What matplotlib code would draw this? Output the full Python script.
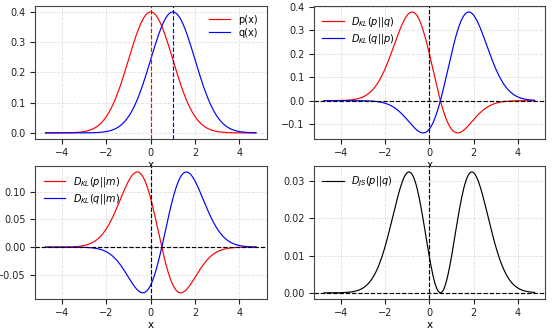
import matplotlib
matplotlib.use("Agg")
import matplotlib.pyplot as plt
import numpy as np

plt.rcParams['font.family'] = ['DejaVu Sans']
plt.rcParams['font.size'] = 7
plt.rcParams['axes.edgecolor'] = '#444444'
plt.rcParams['xtick.color'] = '#222222'
plt.rcParams['ytick.color'] = '#222222'

# two unit-variance gaussians
mu_p = 0.0
mu_q = 1.0
sigma = 1.0
x_lo, x_hi = -4.753, 4.753
n_pts = 200

labels_pq = ['p(x)', 'q(x)']
labels_kl = [r'$D_{KL}(p||q)$', r'$D_{KL}(q||p)$']
labels_m = [r'$D_{KL}(p||m)$', r'$D_{KL}(q||m)$']
label_js = r'$D_{JS}(p||q)$'

x = np.linspace(x_lo, x_hi, n_pts)


def gauss(x, mu, s):
    return np.exp(-(x - mu) ** 2 / (2 * s ** 2)) / (s * np.sqrt(2 * np.pi))


p = gauss(x, mu_p, sigma)
q = gauss(x, mu_q, sigma)
m = (p + q) / 2
kl_pq = p * np.log(p / q)
kl_qp = q * np.log(q / p)
kl_pm = p * np.log(p / m)
kl_qm = q * np.log(q / m)
js = 0.5 * (kl_pm + kl_qm)

fig, axes = plt.subplots(2, 2, figsize=(5.54, 3.31), dpi=100)
fig.subplots_adjust(left=0.063, right=0.984, top=0.982, bottom=0.097,
                    wspace=0.203, hspace=0.203)

LW = 0.85


def style(ax, loc):
    ax.grid(True, linestyle='--', color='#cccccc', alpha=0.6, linewidth=0.6)
    ax.set_xlabel('x', fontsize=7.5, labelpad=1.5)
    ax.tick_params(length=3.5, width=0.8, pad=3)
    ax.set_xticks([-4, -2, 0, 2, 4])
    ax.legend(loc=loc, frameon=False, fontsize=7, labelspacing=0.3,
              handlelength=2.2)


ax = axes[0, 0]
ax.plot(x, p, color='red', lw=LW, label=labels_pq[0])
ax.plot(x, q, color='blue', lw=LW, label=labels_pq[1])
ax.axvline(mu_p, color='red', ls='--', lw=LW)
ax.axvline(mu_q, color='blue', ls='--', lw=LW)
style(ax, 'upper right')

ax = axes[0, 1]
ax.plot(x, kl_pq, color='red', lw=LW, label=labels_kl[0])
ax.plot(x, kl_qp, color='blue', lw=LW, label=labels_kl[1])
ax.axhline(0, color='black', ls='--', lw=LW)
ax.axvline(0, color='black', ls='--', lw=LW)
style(ax, 'upper left')

ax = axes[1, 0]
ax.plot(x, kl_pm, color='red', lw=LW, label=labels_m[0])
ax.plot(x, kl_qm, color='blue', lw=LW, label=labels_m[1])
ax.axhline(0, color='black', ls='--', lw=LW)
ax.axvline(0, color='black', ls='--', lw=LW)
style(ax, 'upper left')

ax = axes[1, 1]
ax.plot(x, js, color='black', lw=LW, label=label_js)
ax.axhline(0, color='black', ls='--', lw=LW)
ax.axvline(0, color='black', ls='--', lw=LW)
style(ax, 'upper left')

fig.savefig('out.png', dpi=100)
